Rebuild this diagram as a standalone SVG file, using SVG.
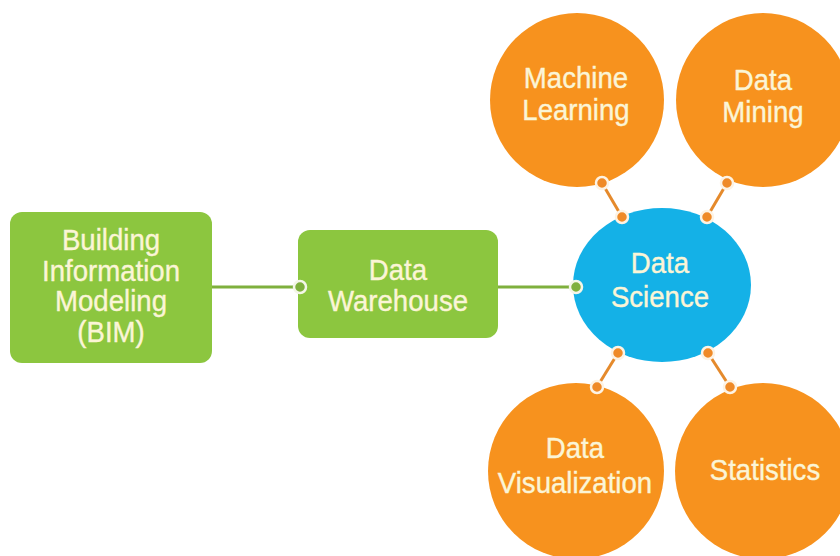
<svg xmlns="http://www.w3.org/2000/svg" width="840" height="556" viewBox="0 0 840 556">
<style>
.box{fill:#8cc63f}
.orb{fill:#f7921e}
.ds{fill:#14b1e7}
.t{font-family:"Liberation Sans",Arial,sans-serif;font-size:30px;fill:#fbf5d6;stroke:#fbf5d6;stroke-width:0.4;text-anchor:middle}
.gl{stroke:#7fb03d;stroke-width:3;fill:none}
.ol{stroke:#e58a2c;stroke-width:3;fill:none}
.gd{fill:#7fb03d;stroke:#f4f6e8;stroke-width:2.5}
.od{fill:#ef8a27;stroke:#fdf3e4;stroke-width:2.5}
</style>
<rect width="840" height="556" fill="#ffffff"/>
<g id="connectors">
<line class="gl" x1="212" y1="287" x2="300" y2="287"/>
<line class="gl" x1="498" y1="287" x2="576" y2="287"/>
<line class="ol" x1="602" y1="183" x2="622" y2="217"/>
<line class="ol" x1="727" y1="183" x2="707" y2="217"/>
<line class="ol" x1="618" y1="353" x2="597" y2="387"/>
<line class="ol" x1="708" y1="353" x2="730" y2="387"/>
</g>
<g id="bim">
<rect class="box" x="10" y="212" width="202" height="151" rx="12"/>
<text class="t" transform="translate(111,250) scale(0.92,1)">Building</text>
<text class="t" transform="translate(111,281) scale(0.92,1)">Information</text>
<text class="t" transform="translate(111,311) scale(0.92,1)">Modeling</text>
<text class="t" transform="translate(111,342) scale(0.92,1)">(BIM)</text>
</g>
<g id="warehouse">
<rect class="box" x="298" y="230" width="200" height="108" rx="12"/>
<text class="t" transform="translate(398,280) scale(0.92,1)">Data</text>
<text class="t" transform="translate(398,311) scale(0.92,1)">Warehouse</text>
</g>
<g id="science">
<ellipse class="ds" cx="662" cy="285" rx="89" ry="77"/>
<text class="t" transform="translate(660,273) scale(0.92,1)">Data</text>
<text class="t" transform="translate(660,307) scale(0.92,1)">Science</text>
</g>
<g id="ml">
<circle class="orb" cx="577" cy="100" r="87"/>
<text class="t" transform="translate(576,88) scale(0.92,1)">Machine</text>
<text class="t" transform="translate(576,120) scale(0.92,1)">Learning</text>
</g>
<g id="dm">
<circle class="orb" cx="763" cy="100" r="87"/>
<text class="t" transform="translate(763,90) scale(0.92,1)">Data</text>
<text class="t" transform="translate(763,122) scale(0.92,1)">Mining</text>
</g>
<g id="dv">
<circle class="orb" cx="576" cy="471" r="88"/>
<text class="t" transform="translate(575,458) scale(0.92,1)">Data</text>
<text class="t" transform="translate(575,493) scale(0.92,1)">Visualization</text>
</g>
<g id="stats">
<circle class="orb" cx="763" cy="471" r="88"/>
<text class="t" transform="translate(765,480) scale(0.92,1)">Statistics</text>
</g>
<g id="dots">
<circle class="gd" cx="300" cy="287" r="6"/>
<circle class="gd" cx="576" cy="287" r="6"/>
<circle class="od" cx="602" cy="183" r="6"/>
<circle class="od" cx="622" cy="217" r="6"/>
<circle class="od" cx="727" cy="183" r="6"/>
<circle class="od" cx="707" cy="217" r="6"/>
<circle class="od" cx="618" cy="353" r="6"/>
<circle class="od" cx="597" cy="387" r="6"/>
<circle class="od" cx="708" cy="353" r="6"/>
<circle class="od" cx="730" cy="387" r="6"/>
</g>
</svg>
